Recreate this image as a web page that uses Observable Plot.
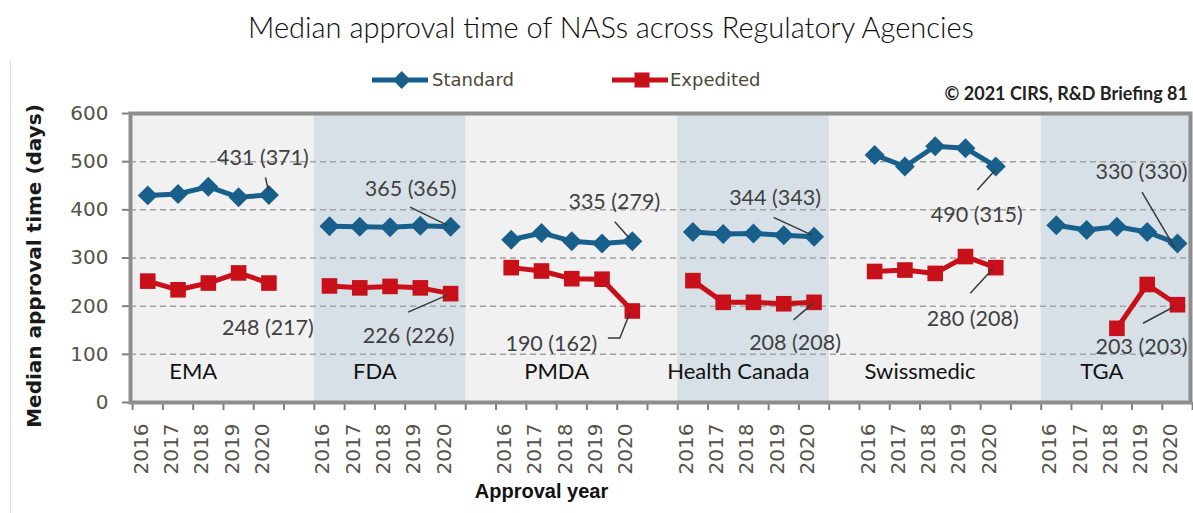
<!DOCTYPE html>
<html>
<head>
<meta charset="utf-8">
<script src="https://cdn.jsdelivr.net/npm/d3@7"></script>
<script src="https://cdn.jsdelivr.net/npm/@observablehq/plot@0.6"></script>
<style>
  html, body { margin: 0; padding: 0; background: #ffffff; }
  #wrap { position: relative; width: 1193px; height: 513px; overflow: hidden; background: #fff; }
  #chart { position: absolute; left: 0; top: 0; }
  .abs { position: absolute; white-space: nowrap; }
  #title { left: 11px; width: 1200px; top: 10px; text-align: center; font-family: Lato, "Open Sans", sans-serif; font-weight: 300; font-size: 29px; line-height: 34px; color: #0d0d0d; }
  .legtext { font-family: "DejaVu Sans", sans-serif; font-size: 18px; line-height: 22px; color: #4a4838; }
  #copy { right: 5px; top: 82px; font-family: Lato, sans-serif; font-weight: 700; font-size: 18px; line-height: 22px; color: #222; }
  #edge { left: 10px; top: 60px; width: 1px; height: 453px; background: #dddddd; }
</style>
</head>
<body>
<div id="wrap">
  <div id="edge" class="abs"></div>
  <div id="chart"></div>
  <div id="title" class="abs"></div>
  <div id="legend"></div>
  <div id="copy" class="abs"></div>
</div>
<script>
// ---------- data ----------
const agencies = ["EMA", "FDA", "PMDA", "Health Canada", "Swissmedic", "TGA"];
const years = [2016, 2017, 2018, 2019, 2020];
const seriesNames = ["Standard", "Expedited"];
// median approval time (days), one row per agency, one column per year
const standard = [
  [430, 433, 448, 426, 431],
  [366, 365, 364, 367, 365],
  [338, 352, 335, 330, 335],
  [354, 350, 351, 347, 344],
  [514, 490, 532, 528, 490],
  [368, 358, 365, 354, 330]
];
const expedited = [
  [252, 234, 248, 269, 248],
  [242, 238, 241, 238, 226],
  [280, 273, 257, 256, 190],
  [253, 208, 208, 205, 208],
  [272, 275, 268, 303, 280],
  [null, null, 154, 245, 203]
];
// 2020 value labels: "median (…)"
const standardLabels = ["431 (371)", "365 (365)", "335 (279)", "344 (343)", "490 (315)", "330 (330)"];
const expeditedLabels = ["248 (217)", "226 (226)", "190 (162)", "208 (208)", "280 (208)", "203 (203)"];
const shadedAgencies = ["FDA", "Health Canada", "TGA"];
const yTicks = [0, 100, 200, 300, 400, 500, 600];
const titleText = "Median approval time of NASs across Regulatory Agencies";
const yLabel = "Median approval time (days)";
const xLabel = "Approval year";
const sourceText = "© 2021 CIRS, R&D Briefing 81";

// ---------- layout / style ----------
const colors = {Standard: "#195f8b", Expedited: "#c8101a"};
const slotsPerGroup = years.length + 1;
const tickFont = "'DejaVu Sans', Verdana, sans-serif";
const textFont = "Lato, 'Open Sans', sans-serif";
// pixel offsets of each 2020 label (centre) and its leader line, relative to the labelled point
const standardLayout = [
  {dx: -6, dy: -37, leader: [[-3, -17], [0, -4]]},
  {dx: -40, dy: -38, leader: [[-40, -19], [-3, -1]]},
  {dx: -18, dy: -39, leader: [[-17, -19], [-2, -2]]},
  {dx: -39, dy: -39, leader: [[-40, -19], [-1, -1]]},
  {dx: -19, dy: 49, leader: [[-18, 24], [0, 4]]},
  {dx: -36, dy: -71, leader: [[-35, -51], [-2, 5]]}
];
const expeditedLayout = [
  {dx: -1, dy: 45, leader: null},
  {dx: -42, dy: 42, leader: [[-42, 19], [-3, 2]]},
  {dx: -81, dy: 33, leader: [[-24, 27.5], [-12, 27.5], [-2, 2.5]]},
  {dx: -19, dy: 41, leader: [[-20, 18], [0, 1]]},
  {dx: -23, dy: 51, leader: [[-25, 26], [-2, 1]]},
  {dx: -36, dy: 42, leader: [[-34, 19], [-4, 3]]}
];

// ---------- build tidy table ----------
const rows = [];
agencies.forEach((agency, g) => {
  years.forEach((year, j) => {
    [["Standard", standard], ["Expedited", expedited]].forEach(([series, table]) => {
      const v = table[g][j];
      if (v != null) rows.push({agency, series, year, slot: g * slotsPerGroup + j, value: v});
    });
  });
});
const slots = rows.filter(d => d.series === "Standard");
const lastPoint = (agency, series) => rows.find(d => d.agency === agency && d.series === series && d.year === years[years.length - 1]);

const annotations = [];
agencies.forEach((agency, g) => {
  annotations.push({...lastPoint(agency, "Standard"), label: standardLabels[g], layout: standardLayout[g]});
  annotations.push({...lastPoint(agency, "Expedited"), label: expeditedLabels[g], layout: expeditedLayout[g]});
});

const boundaries = d3.range(-0.5, agencies.length * slotsPerGroup - 1, 1);

const plot = Plot.plot({
  width: 1193,
  height: 513,
  marginLeft: 130,
  marginRight: 3,
  marginTop: 113,
  marginBottom: 111,
  x: {type: "linear", domain: [-0.57, agencies.length * slotsPerGroup - 1.57]},
  y: {domain: [0, 600]},
  style: {background: "transparent", overflow: "visible"},
  marks: [
    Plot.frame({fill: "#f1f1f1", stroke: null}),
    Plot.rect(shadedAgencies, {
      x1: a => agencies.indexOf(a) * slotsPerGroup - 0.5,
      x2: a => agencies.indexOf(a) * slotsPerGroup + years.length - 0.5,
      fill: "#d7e0e6",
      clip: true
    }),
    Plot.ruleY(yTicks.slice(1, -1), {stroke: "#a3a3a3", strokeWidth: 1.5, strokeDasharray: "6,4"}),
    Plot.axisY({ticks: yTicks, tickSize: 8, tickPadding: 14, label: null, stroke: "#7f7f7f", strokeWidth: 2,
      fill: "#55524a", fontSize: 20, fontFamily: tickFont}),
    Plot.axisX({ticks: boundaries, tickSize: 8, label: null, stroke: "#7f7f7f", strokeWidth: 2, fill: "none"}),
    Plot.text(agencies, {
      x: a => agencies.indexOf(a) * slotsPerGroup + 1.5,
      text: d => d, frameAnchor: "bottom", dy: -24,
      fontSize: 22, fontFamily: textFont, fill: "#111"
    }),
    ...annotations.map(a => Plot.text([a], {
      x: "slot", y: "value", text: "label", dx: a.layout.dx, dy: a.layout.dy,
      fontSize: 21.5, fontFamily: textFont, fill: "#404040"
    })),
    Plot.line(rows, {x: "slot", y: "value", z: d => d.series + d.agency, stroke: d => colors[d.series], strokeWidth: 5}),
    Plot.dot(rows.filter(d => d.series === "Standard"), {x: "slot", y: "value", symbol: "diamond2", r: 9, fill: colors.Standard}),
    Plot.dot(rows.filter(d => d.series === "Expedited"), {x: "slot", y: "value", symbol: "square", r: 8.8, fill: colors.Expedited}),
    Plot.frame({stroke: "#8d8d8d", strokeWidth: 4}),
    Plot.text(slots, {
      x: "slot", text: d => String(d.year), frameAnchor: "bottom", rotate: -90, textAnchor: "end", dy: 21,
      fontSize: 20, fontFamily: tickFont, fill: "#55524a"
    }),
    Plot.text([yLabel], {
      text: d => d, frameAnchor: "left", textAnchor: "middle", rotate: -90, dx: -96, dy: 8,
      fontSize: 20, fontWeight: "bold", fontFamily: tickFont, fill: "#1a1a1a"
    }),
    Plot.text([xLabel], {
      text: d => d, frameAnchor: "bottom", textAnchor: "middle", dx: -119, dy: 95,
      fontSize: 20, fontWeight: "bold", fontFamily: "'Liberation Sans Narrow', 'Arial Narrow', 'Liberation Sans', sans-serif", fill: "#111"
    })
  ]
});

// leader lines, placed with the plot's own scales
const sx = plot.scale("x"), sy = plot.scale("y");
const leaderG = d3.select(plot).append("g").attr("fill", "none").attr("stroke", "#3a3a3a").attr("stroke-width", 1.5);
annotations.forEach(a => {
  if (!a.layout.leader) return;
  const px = sx.apply(a.slot), py = sy.apply(a.value);
  leaderG.append("path").attr("d", d3.line()(a.layout.leader.map(([ox, oy]) => [px + ox, py + oy])));
});
document.getElementById("chart").appendChild(plot);

// title, legend, source
document.getElementById("title").textContent = titleText;
document.getElementById("copy").textContent = sourceText;
const legend = d3.select("#legend");
const legendItems = [
  {name: seriesNames[0], left: 370, textLeft: 432, symbol: "diamond"},
  {name: seriesNames[1], left: 610, textLeft: 670, symbol: "square"}
];
legendItems.forEach(item => {
  const s = legend.append("svg").attr("class", "abs").attr("width", 62).attr("height", 22)
    .style("left", item.left + "px").style("top", "69px");
  s.append("line").attr("x1", 2).attr("x2", 58).attr("y1", 11).attr("y2", 11)
    .attr("stroke", colors[item.name]).attr("stroke-width", 5);
  if (item.symbol === "diamond") {
    s.append("path").attr("d", "M31.7,2 L40.5,11 L31.7,20 L22.9,11 Z").attr("fill", colors[item.name]);
  } else {
    s.append("rect").attr("x", 24.5).attr("y", 3.5).attr("width", 15).attr("height", 15).attr("fill", colors[item.name]);
  }
  legend.append("div").attr("class", "abs legtext").style("left", item.textLeft + "px").style("top", "69px").text(item.name);
});
</script>
</body>
</html>
